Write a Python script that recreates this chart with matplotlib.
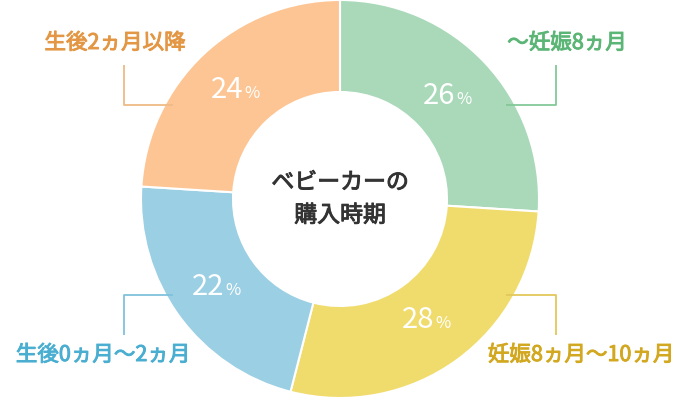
import numpy as np
import matplotlib
matplotlib.use('Agg')
import matplotlib.pyplot as plt
import matplotlib.patheffects as pe

plt.rcParams['font.family'] = ['Noto Sans CJK JP', 'DejaVu Sans']

# data
labels = ['～妊娠8ヵ月', '妊娠8ヵ月～10ヵ月', '生後0ヵ月～2ヵ月', '生後2ヵ月以降']
shares = [26, 28, 22, 24]
slice_colors = ['#a9d9b9', '#f0dc6d', '#9bcfe4', '#fdc593']
text_colors = ['#5bb676', '#d2a820', '#4aaed1', '#e39744']
line_colors = ['#84c898', '#e3c95a', '#7fc2dc', '#efba86']
center_title = 'ベビーカーの\n購入時期'

# layout (pixel coords, y up)
cx, cy = 340, 201
r_out, r_in = 199, 107
label_pos = [(567, 357), (581, 45), (103, 45), (115, 357)]
leaders = [
    [(556, 335), (556, 295), (506, 295)],
    [(556, 65), (556, 105), (506, 105)],
    [(124, 65), (124, 105), (173, 105)],
    [(124, 335), (124, 295), (173, 295)],
]

fig = plt.figure(figsize=(6.8, 4), dpi=100)
ax = fig.add_axes([0, 0, 1, 1])

wedges, _ = ax.pie(shares, colors=slice_colors, startangle=90, counterclock=False,
                   radius=r_out, center=(cx, cy),
                   wedgeprops=dict(width=r_out - r_in, edgecolor='white', linewidth=1.5))

# percentage labels inside ring
for w, s in zip(wedges, shares):
    mid = np.deg2rad((w.theta1 + w.theta2) / 2)
    px = cx + 150 * np.cos(mid)
    py = cy + 150 * np.sin(mid)
    ax.text(px + 6, py - 8, str(s), color='white', fontsize=21, ha='right', va='baseline')
    ax.text(px + 7, py - 8, '%', color='white', fontsize=12, ha='left', va='baseline')

# medium-ish weight: regular glyphs with a thin outline of the same colour
ax.text(cx, cy, center_title, ha='center', va='center', fontsize=16.5,
        color='#333333', linespacing=1.55,
        path_effects=[pe.withStroke(linewidth=0.7, foreground='#333333')])

for lab, pos, tc, lc, pts in zip(labels, label_pos, text_colors, line_colors, leaders):
    ax.text(pos[0], pos[1], lab, color=tc, fontsize=15.5, ha='center', va='center',
            path_effects=[pe.withStroke(linewidth=0.7, foreground=tc)])
    xs, ys = zip(*pts)
    ax.plot(xs, ys, color=lc, lw=1.3, solid_capstyle='butt')

ax.set_xlim(0, 680)
ax.set_ylim(0, 400)
ax.set_aspect('equal')
ax.axis('off')

fig.savefig('out.png', dpi=100)
